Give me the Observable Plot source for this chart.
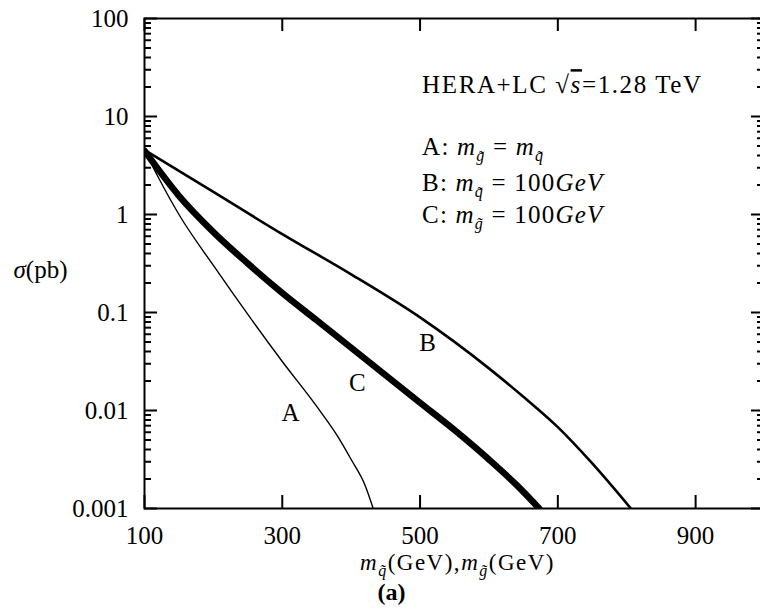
<!DOCTYPE html>
<html><head><meta charset="utf-8">
<script src="https://cdn.jsdelivr.net/npm/d3@7"></script>
<script src="https://cdn.jsdelivr.net/npm/@observablehq/plot@0.6"></script>
<style>html,body{margin:0;padding:0;background:#fff;overflow:hidden}</style>
</head><body><div id="chart"></div>
<script>
// ---- data ----
const xTicks = [100, 300, 500, 700, 900];
const xTickLabels = ["100", "300", "500", "700", "900"];
const yTicks = [0.001, 0.01, 0.1, 1, 10, 100];
const yTickLabels = ["0.001", "0.01", "0.1", "1", "10", "100"];
const decades = [0.001, 0.01, 0.1, 1, 10];
const minorMultipliers = [2, 3, 4, 5, 6, 7, 8, 9];

// Curve A: m_g = m_q
const massA  = [100, 120, 150, 200, 250, 300, 350, 380, 400, 420, 432];
const sigmaA = [4.57, 2.40, 1.0, 0.302, 0.0955, 0.0316, 0.011, 0.0055, 0.00316, 0.00174, 0.001];
// Curve B: m_q = 100 GeV
const massB  = [100, 200, 300, 400, 500, 600, 650, 700, 750, 806];
const sigmaB = [4.57, 1.70, 0.631, 0.245, 0.0891, 0.0269, 0.0138, 0.00676, 0.00288, 0.001];
// Curve C: m_g = 100 GeV
const massC  = [100, 150, 200, 250, 300, 350, 400, 450, 500, 550, 600, 640, 673];
const sigmaC = [4.47, 1.55, 0.661, 0.316, 0.158, 0.0832, 0.0437, 0.0229, 0.0120, 0.00631, 0.00316, 0.00174, 0.001];

const curveLabels = ["A", "B", "C"];
const curveLabelX = [312, 511, 409];
const curveLabelY = [0.00935, 0.0485, 0.019];

const noteText = ["HERA+LC √s=1.28 TeV", "A: mg = mq", "B: mq = 100GeV", "C: mg = 100GeV"];
const noteX = [503, 503, 503, 503];
const noteY = [20.9, 4.85, 2.08, 0.99];

// ---- layout ----
const W = 760, H = 612, ML = 144, MR = -4, MT = 18, MB = 104;
const PW = W - ML - MR, PH = H - MT - MB;
const FONT = "'Liberation Serif', 'Times New Roman', serif";
const FS = 25;

const toRows = (xs, ys) => xs.map((x, i) => ({x, y: ys[i]}));
const minorTicks = decades.flatMap(d => minorMultipliers.map(m => d * m));

const svg = Plot.plot({
  width: W, height: H,
  marginLeft: ML, marginRight: MR, marginTop: MT, marginBottom: MB,
  style: {fontFamily: FONT, fontSize: FS + "px", background: "#fff", color: "#000"},
  x: {domain: [100, 1000]},
  y: {type: "log", domain: [0.001, 100]},
  marks: [
    Plot.axisX(xTicks, {anchor: "bottom", tickSize: 0, tickPadding: 18, fontSize: FS, label: null,
      tickFormat: d => xTickLabels[xTicks.indexOf(d)]}),
    Plot.axisY(yTicks, {anchor: "left", tickSize: 0, tickPadding: 16, fontSize: FS, label: null,
      tickFormat: d => yTickLabels[yTicks.indexOf(d)]}),
    // inward ticks on all four sides
    Plot.tickY(yTicks, {y: d => d, insetRight: PW - 13, strokeWidth: 2}),
    Plot.tickY(minorTicks, {y: d => d, insetRight: PW - 7, strokeWidth: 2}),
    Plot.tickY(yTicks, {y: d => d, insetLeft: PW - 13, strokeWidth: 2}),
    Plot.tickY(minorTicks, {y: d => d, insetLeft: PW - 7, strokeWidth: 2}),
    Plot.tickX(xTicks, {x: d => d, insetTop: PH - 13, strokeWidth: 2}),
    Plot.tickX(xTicks, {x: d => d, insetBottom: PH - 13, strokeWidth: 2}),
    // curves
    Plot.line(toRows(massA, sigmaA), {x: "x", y: "y", stroke: "#000", strokeWidth: 1.4, curve: "monotone-x", clip: true}),
    Plot.line(toRows(massB, sigmaB), {x: "x", y: "y", stroke: "#000", strokeWidth: 2.6, curve: "monotone-x", clip: true}),
    Plot.line(toRows(massC, sigmaC), {x: "x", y: "y", stroke: "#000", strokeWidth: 6.5, curve: "monotone-x", clip: true}),
    Plot.frame({stroke: "#000", strokeWidth: 2}),
    // labels
    Plot.text(curveLabels, {x: (d, i) => curveLabelX[i], y: (d, i) => curveLabelY[i], text: d => d, fontSize: FS}),
    Plot.text(noteText, {x: (d, i) => noteX[i], y: (d, i) => noteY[i], text: d => d, textAnchor: "start", fontSize: FS}),
    Plot.text(["sigma(pb)"], {x: () => 100, y: () => 0.27, dx: -104, text: d => d, fontSize: FS}),
    Plot.text(["xlabel"], {frameAnchor: "bottom", dx: 3, dy: 61, text: d => d, fontSize: 23}),
    Plot.text(["(a)"], {frameAnchor: "bottom", dx: -63, dy: 91, text: d => d, fontSize: 24, fontWeight: "bold"})
  ]
});

// ---- rich text (math) ----
const T = "\u0303"; // combining tilde
const rich = {
  "HERA+LC √s=1.28 TeV": {ls: 1.6, segs: [{t: "HERA+LC "}, {t: "√"}, {t: "s", i: 1, ov: 1}, {t: "=1.28 TeV"}]},
  "A: mg = mq": {ls: 1.2, segs: [{t: "A: "}, {t: "m", i: 1}, {t: "g" + T, i: 1, sub: 1}, {t: " = "}, {t: "m", i: 1}, {t: "q" + T, i: 1, sub: 1}]},
  "B: mq = 100GeV": {ls: 1.2, segs: [{t: "B: "}, {t: "m", i: 1}, {t: "q" + T, i: 1, sub: 1}, {t: " = 100"}, {t: "GeV", i: 1}]},
  "C: mg = 100GeV": {ls: 1.2, segs: [{t: "C: "}, {t: "m", i: 1}, {t: "g" + T, i: 1, sub: 1}, {t: " = 100"}, {t: "GeV", i: 1}]},
  "sigma(pb)": {ls: 0, segs: [{t: "σ", i: 1}, {t: "(pb)"}]},
  "xlabel": {ls: 1.5, segs: [{t: "m", i: 1}, {t: "q" + T, i: 1, sub: 1}, {t: "(GeV),"}, {t: "m", i: 1}, {t: "g" + T, i: 1, sub: 1}, {t: "(GeV)"}]}
};
const NS = "http://www.w3.org/2000/svg";
function addSpan(parent, text, attrs) {
  const ts = document.createElementNS(NS, "tspan");
  ts.textContent = text;
  for (const k in attrs) ts.setAttribute(k, attrs[k]);
  parent.appendChild(ts);
}
d3.select(svg).selectAll("text").each(function() {
  const r = rich[this.textContent];
  if (!r) return;
  this.textContent = "";
  if (r.ls) this.setAttribute("letter-spacing", r.ls);
  let shift = 0;
  for (const s of r.segs) {
    const a = {};
    if (s.i) a["font-style"] = "italic";
    if (s.ov) a["text-decoration"] = "overline";
    if (s.sub) {
      a["font-size"] = "16px";
      if (!shift) { a.dy = 6; shift = 6; }
    } else if (shift) {
      a.dy = -shift; shift = 0;
    }
    addSpan(this, s.t, a);
  }
});

document.getElementById("chart").appendChild(svg);
</script>
</body></html>
